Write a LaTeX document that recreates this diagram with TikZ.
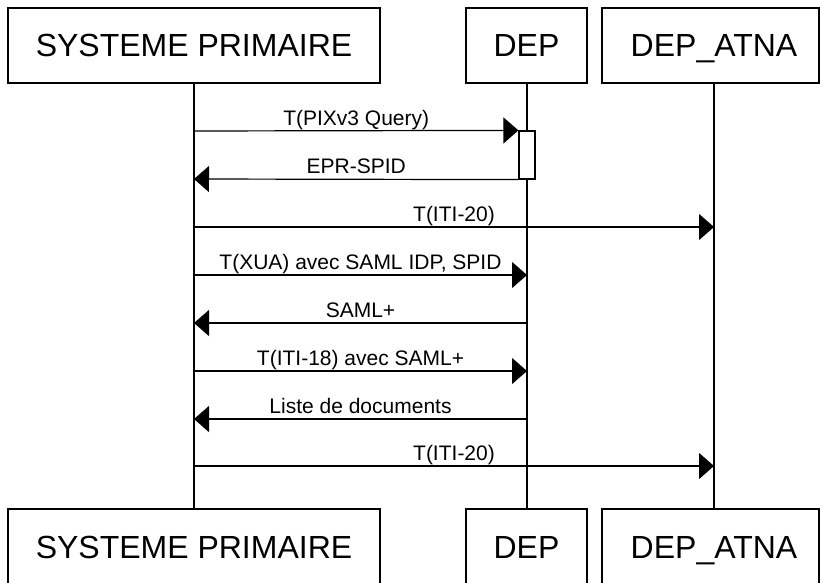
\documentclass[tikz,border=0pt]{standalone}
\usepackage{fontspec}
\setmainfont{Liberation Sans}
\usetikzlibrary{arrows.meta}
\usetikzlibrary{positioning}

\begin{document}
\begin{tikzpicture}[x=1pt, y=-1pt, line width=1.2pt,
    actor/.style={draw, minimum height=75pt, inner sep=0pt, text height=23pt, text depth=0pt,
        font=\fontsize{32}{36}\selectfont},
    msg/.style={-{Triangle[length=15pt, width=26pt]}},
    lbl/.style={anchor=base, yshift=5.5pt, inner sep=0pt, font=\fontsize{21}{24}\selectfont}]
    \useasboundingbox (0,0) rectangle (820,583);

    % actors, top and bottom
    \node[actor, minimum width=372pt] (sp) at (194,45.5) {SYSTEME PRIMAIRE};
    \node[actor, minimum width=121pt] (dep) at (526.5,45.5) {DEP};
    \node[actor, minimum width=217pt] (atna) at (710.5,45.5) {\hspace*{7pt}DEP\_ATNA};
    \node[actor, minimum width=372pt] (spb) at (194,546.5) {SYSTEME PRIMAIRE};
    \node[actor, minimum width=121pt] (depb) at (526.5,546.5) {DEP};
    \node[actor, minimum width=217pt] (atnab) at (710.5,546.5) {\hspace*{7pt}DEP\_ATNA};

    % lifelines
    \draw (sp.south) -- (spb.north);
    \draw ([xshift=0.5pt]dep.south) -- ([xshift=0.5pt]depb.north);
    \draw ([xshift=3.5pt]atna.south) -- ([xshift=3.5pt]atnab.north);

    % points on the lifelines
    \foreach \i/\y in {1/131,2/179,3/227,4/275,5/323,6/371,7/419,8/466}
    {
        \coordinate (s\i) at (194,\y);
        \coordinate (d\i) at (527,\y);
        \coordinate (a\i) at (714,\y);
    }

    % activation on DEP
    \node[draw, fill=white, minimum width=16pt, minimum height=48pt, inner sep=0pt] (act) at (527,155) {};

    % Drawing the messages with labels
    \draw[msg] (s1) -- node[lbl] {T(PIXv3 Query)} (act.north west);
    \draw[msg] (act.south west) -- node[lbl] {EPR-SPID} (s2);
    \draw[msg] (s3) -- node[lbl] {T(ITI-20)} (a3);
    \draw[msg] (s4) -- node[lbl] {T(XUA) avec SAML IDP, SPID} (d4);
    \draw[msg] (d5) -- node[lbl] {SAML+} (s5);
    \draw[msg] (s6) -- node[lbl] {T(ITI-18) avec SAML+} (d6);
    \draw[msg] (d7) -- node[lbl] {Liste de documents} (s7);
    \draw[msg] (s8) -- node[lbl] {T(ITI-20)} (a8);
\end{tikzpicture}
\end{document}
